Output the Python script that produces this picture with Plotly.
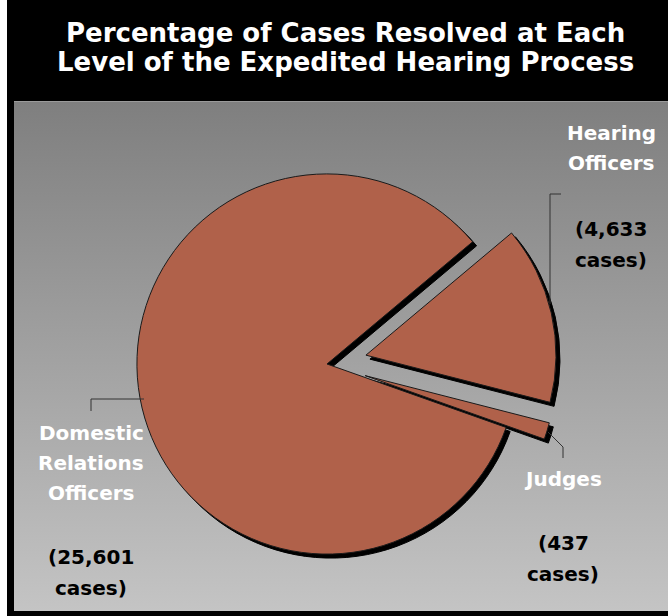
import plotly.graph_objects as go

# Cases resolved at each level of the expedited hearing process
categories = ["Hearing Officers", "Judges", "Domestic Relations Officers"]
cases = [4633, 437, 25601]
slice_pull = [0.21, 0.21, 0.0]

title_lines = ["Percentage of Cases Resolved at Each",
               "Level of the Expedited Hearing Process"]

W, H = 668, 616
FONT = "DejaVu Sans"
SLICE_COLOR = "#b0614a"

# pie placement in pixels (centre and half-size of the domain box)
PIE_CX, PIE_CY, PIE_HALF = 327, 364, 230
SHADOW_OFFSET = 4


def pie_domain(cx, cy, half):
    return dict(x=[(cx - half) / W, (cx + half) / W],
                y=[1 - (cy + half) / H, 1 - (cy - half) / H])


fig = go.Figure()

# gray gradient panel behind the pie (darker at the top)
fig.add_trace(go.Scatter(
    x=[14, W, W, 14, 14], y=[102, 102, 611, 611, 102],
    mode="lines", line=dict(width=0), fill="toself",
    fillgradient=dict(type="vertical",
                      colorscale=[[0, "#c4c4c4"], [1, "#7f7f7f"]]),
    hoverinfo="skip", showlegend=False,
))

# drop shadow of the slices
fig.add_trace(go.Pie(
    labels=categories, values=cases, pull=slice_pull,
    sort=False, direction="clockwise", rotation=50,
    marker=dict(colors=["#000000"] * len(cases),
                line=dict(color="#000000", width=1)),
    textinfo="none", hoverinfo="skip", showlegend=False,
    domain=pie_domain(PIE_CX + SHADOW_OFFSET, PIE_CY + SHADOW_OFFSET, PIE_HALF),
))

# the slices themselves
fig.add_trace(go.Pie(
    labels=categories, values=cases, pull=slice_pull,
    sort=False, direction="clockwise", rotation=50,
    marker=dict(colors=[SLICE_COLOR] * len(cases),
                line=dict(color="#1a1a1a", width=1)),
    textinfo="none", hoverinfo="label+value+percent", showlegend=False,
    domain=pie_domain(PIE_CX, PIE_CY, PIE_HALF),
))

annotations = []


def add_lines(lines, x, y0, step, color, size):
    for i, line in enumerate(lines):
        annotations.append(dict(
            text=line, x=x, y=y0 + i * step, xref="x", yref="y",
            showarrow=False, xanchor="center", yanchor="middle",
            font=dict(family=FONT, size=size, color=color, weight="bold"),
        ))


# title in the black band
add_lines(title_lines, 345, 33, 29, "#ffffff", 26)

# category names (white) and case counts (black)
label_spots = {
    "Hearing Officers": dict(x=611, name_y=133, count_y=229),
    "Judges": dict(x=563, name_y=479, count_y=543),
    "Domestic Relations Officers": dict(x=91, name_y=433, count_y=557),
}
for name, n in zip(categories, cases):
    spot = label_spots[name]
    add_lines(name.split(" "), spot["x"], spot["name_y"], 30, "#ffffff", 20)
    add_lines([f"({n:,}", "cases)"], spot["x"], spot["count_y"], 31, "#000000", 20)

shapes = [
    # black frame and title band
    dict(type="rect", xref="x", yref="y", x0=7, x1=W, y0=0, y1=H,
         fillcolor="#000000", line=dict(width=0), layer="below"),
    dict(type="line", xref="x", yref="y", x0=14, x1=W, y0=101.5, y1=101.5,
         line=dict(color="#9a9a9a", width=1), layer="above"),
    # leader lines
    dict(type="path", xref="x", yref="y", path="M 561 194 L 550 194 L 550 304",
         line=dict(color="#333333", width=1), layer="above"),
    dict(type="path", xref="x", yref="y", path="M 548 432 L 563 447 L 563 458",
         line=dict(color="#333333", width=1), layer="above"),
    dict(type="path", xref="x", yref="y", path="M 144 399 L 91 399 L 91 411",
         line=dict(color="#333333", width=1), layer="above"),
]

fig.update_layout(
    width=W, height=H, autosize=False,
    margin=dict(l=0, r=0, t=0, b=0, pad=0),
    paper_bgcolor="#ffffff", plot_bgcolor="rgba(0,0,0,0)",
    xaxis=dict(range=[0, W], visible=False, fixedrange=True),
    yaxis=dict(range=[H, 0], visible=False, fixedrange=True),
    showlegend=False,
    annotations=annotations,
    shapes=shapes,
)

fig.write_html("out.html")
